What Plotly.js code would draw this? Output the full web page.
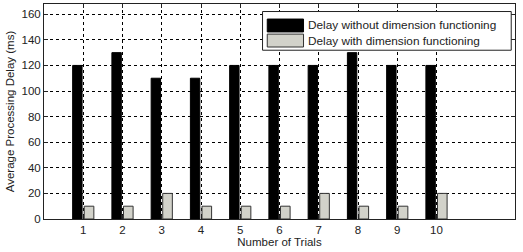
<!DOCTYPE html>
<html>
<head>
<meta charset="utf-8">
<script src="https://cdn.plot.ly/plotly-3.0.1.min.js"></script>
<style>html,body{margin:0;padding:0;background:#fff}#chart{width:523px;height:252px}</style>
</head>
<body>
<div id="chart"></div>
<script>
const trials = [1, 2, 3, 4, 5, 6, 7, 8, 9, 10];
const tickLabels = ["1", "2", "3", "4", "5", "6", "7", "8", "9", "10"];
const delayWithout = [120, 130, 110, 110, 120, 120, 120, 130, 120, 120];
const delayWith = [10, 10, 20, 10, 10, 10, 20, 10, 10, 20];
const nameWithout = "Delay without dimension functioning";
const nameWith = "Delay with dimension functioning";

const font = "Arial, 'Liberation Sans', sans-serif";

const traces = [
  {type: "bar", x: trials, y: delayWithout, name: nameWithout, offset: -0.27, width: 0.24,
   marker: {color: "#000000", line: {color: "#000000", width: 1}}, showlegend: false},
  {type: "bar", x: trials, y: delayWith, name: nameWith, offset: 0.025, width: 0.245,
   marker: {color: "#d2d2ca", line: {color: "#333333", width: 1}}, showlegend: false}
];

const layout = {
  width: 523, height: 252,
  margin: {l: 44, r: 8, t: 4, b: 33},
  paper_bgcolor: "#fff", plot_bgcolor: "#fff",
  barmode: "overlay",
  font: {family: font, size: 11, color: "#222"},
  xaxis: {
    range: [0, 12], tickvals: trials, ticktext: tickLabels,
    ticks: "inside", ticklen: 4, tickcolor: "#222", mirror: "allticks",
    showline: true, linecolor: "#222", linewidth: 1,
    showgrid: true, gridcolor: "#000", gridwidth: 1, griddash: "dot",
    zeroline: false, tickfont: {size: 11.5, color: "#222"},
    title: {text: "Number of Trials", font: {size: 11.5, color: "#222"}, standoff: 3}
  },
  yaxis: {
    range: [0, 168], tickvals: [0, 20, 40, 60, 80, 100, 120, 140, 160],
    ticks: "inside", ticklen: 4, tickcolor: "#222", mirror: "allticks",
    showline: true, linecolor: "#222", linewidth: 1,
    showgrid: true, gridcolor: "#000", gridwidth: 1, griddash: "dot",
    zeroline: false, tickfont: {size: 11.5, color: "#222"},
    title: {text: "Average Processing Delay (ms)", font: {size: 11.5, color: "#222"}, standoff: 4}
  },
  shapes: [
    {type: "rect", xref: "paper", yref: "paper", x0: 0.464, x1: 0.992, y0: 0.785, y1: 0.965,
     fillcolor: "#fff", line: {color: "#222", width: 1}, layer: "above"},
    {type: "rect", xref: "paper", yref: "paper", x0: 0.474, x1: 0.551, y0: 0.87, y1: 0.93,
     fillcolor: "#000", line: {color: "#000", width: 1}, layer: "above"},
    {type: "rect", xref: "paper", yref: "paper", x0: 0.474, x1: 0.551, y0: 0.80, y1: 0.86,
     fillcolor: "#d2d2ca", line: {color: "#333", width: 1}, layer: "above"}
  ],
  annotations: [
    {xref: "paper", yref: "paper", x: 0.556, y: 0.90, xanchor: "left", yanchor: "middle",
     text: nameWithout, showarrow: false, font: {size: 11.8, color: "#222"}},
    {xref: "paper", yref: "paper", x: 0.556, y: 0.83, xanchor: "left", yanchor: "middle",
     text: nameWith, showarrow: false, font: {size: 11.8, color: "#222"}}
  ]
};

Plotly.newPlot("chart", traces, layout, {displayModeBar: false, staticPlot: true});
</script>
</body>
</html>
